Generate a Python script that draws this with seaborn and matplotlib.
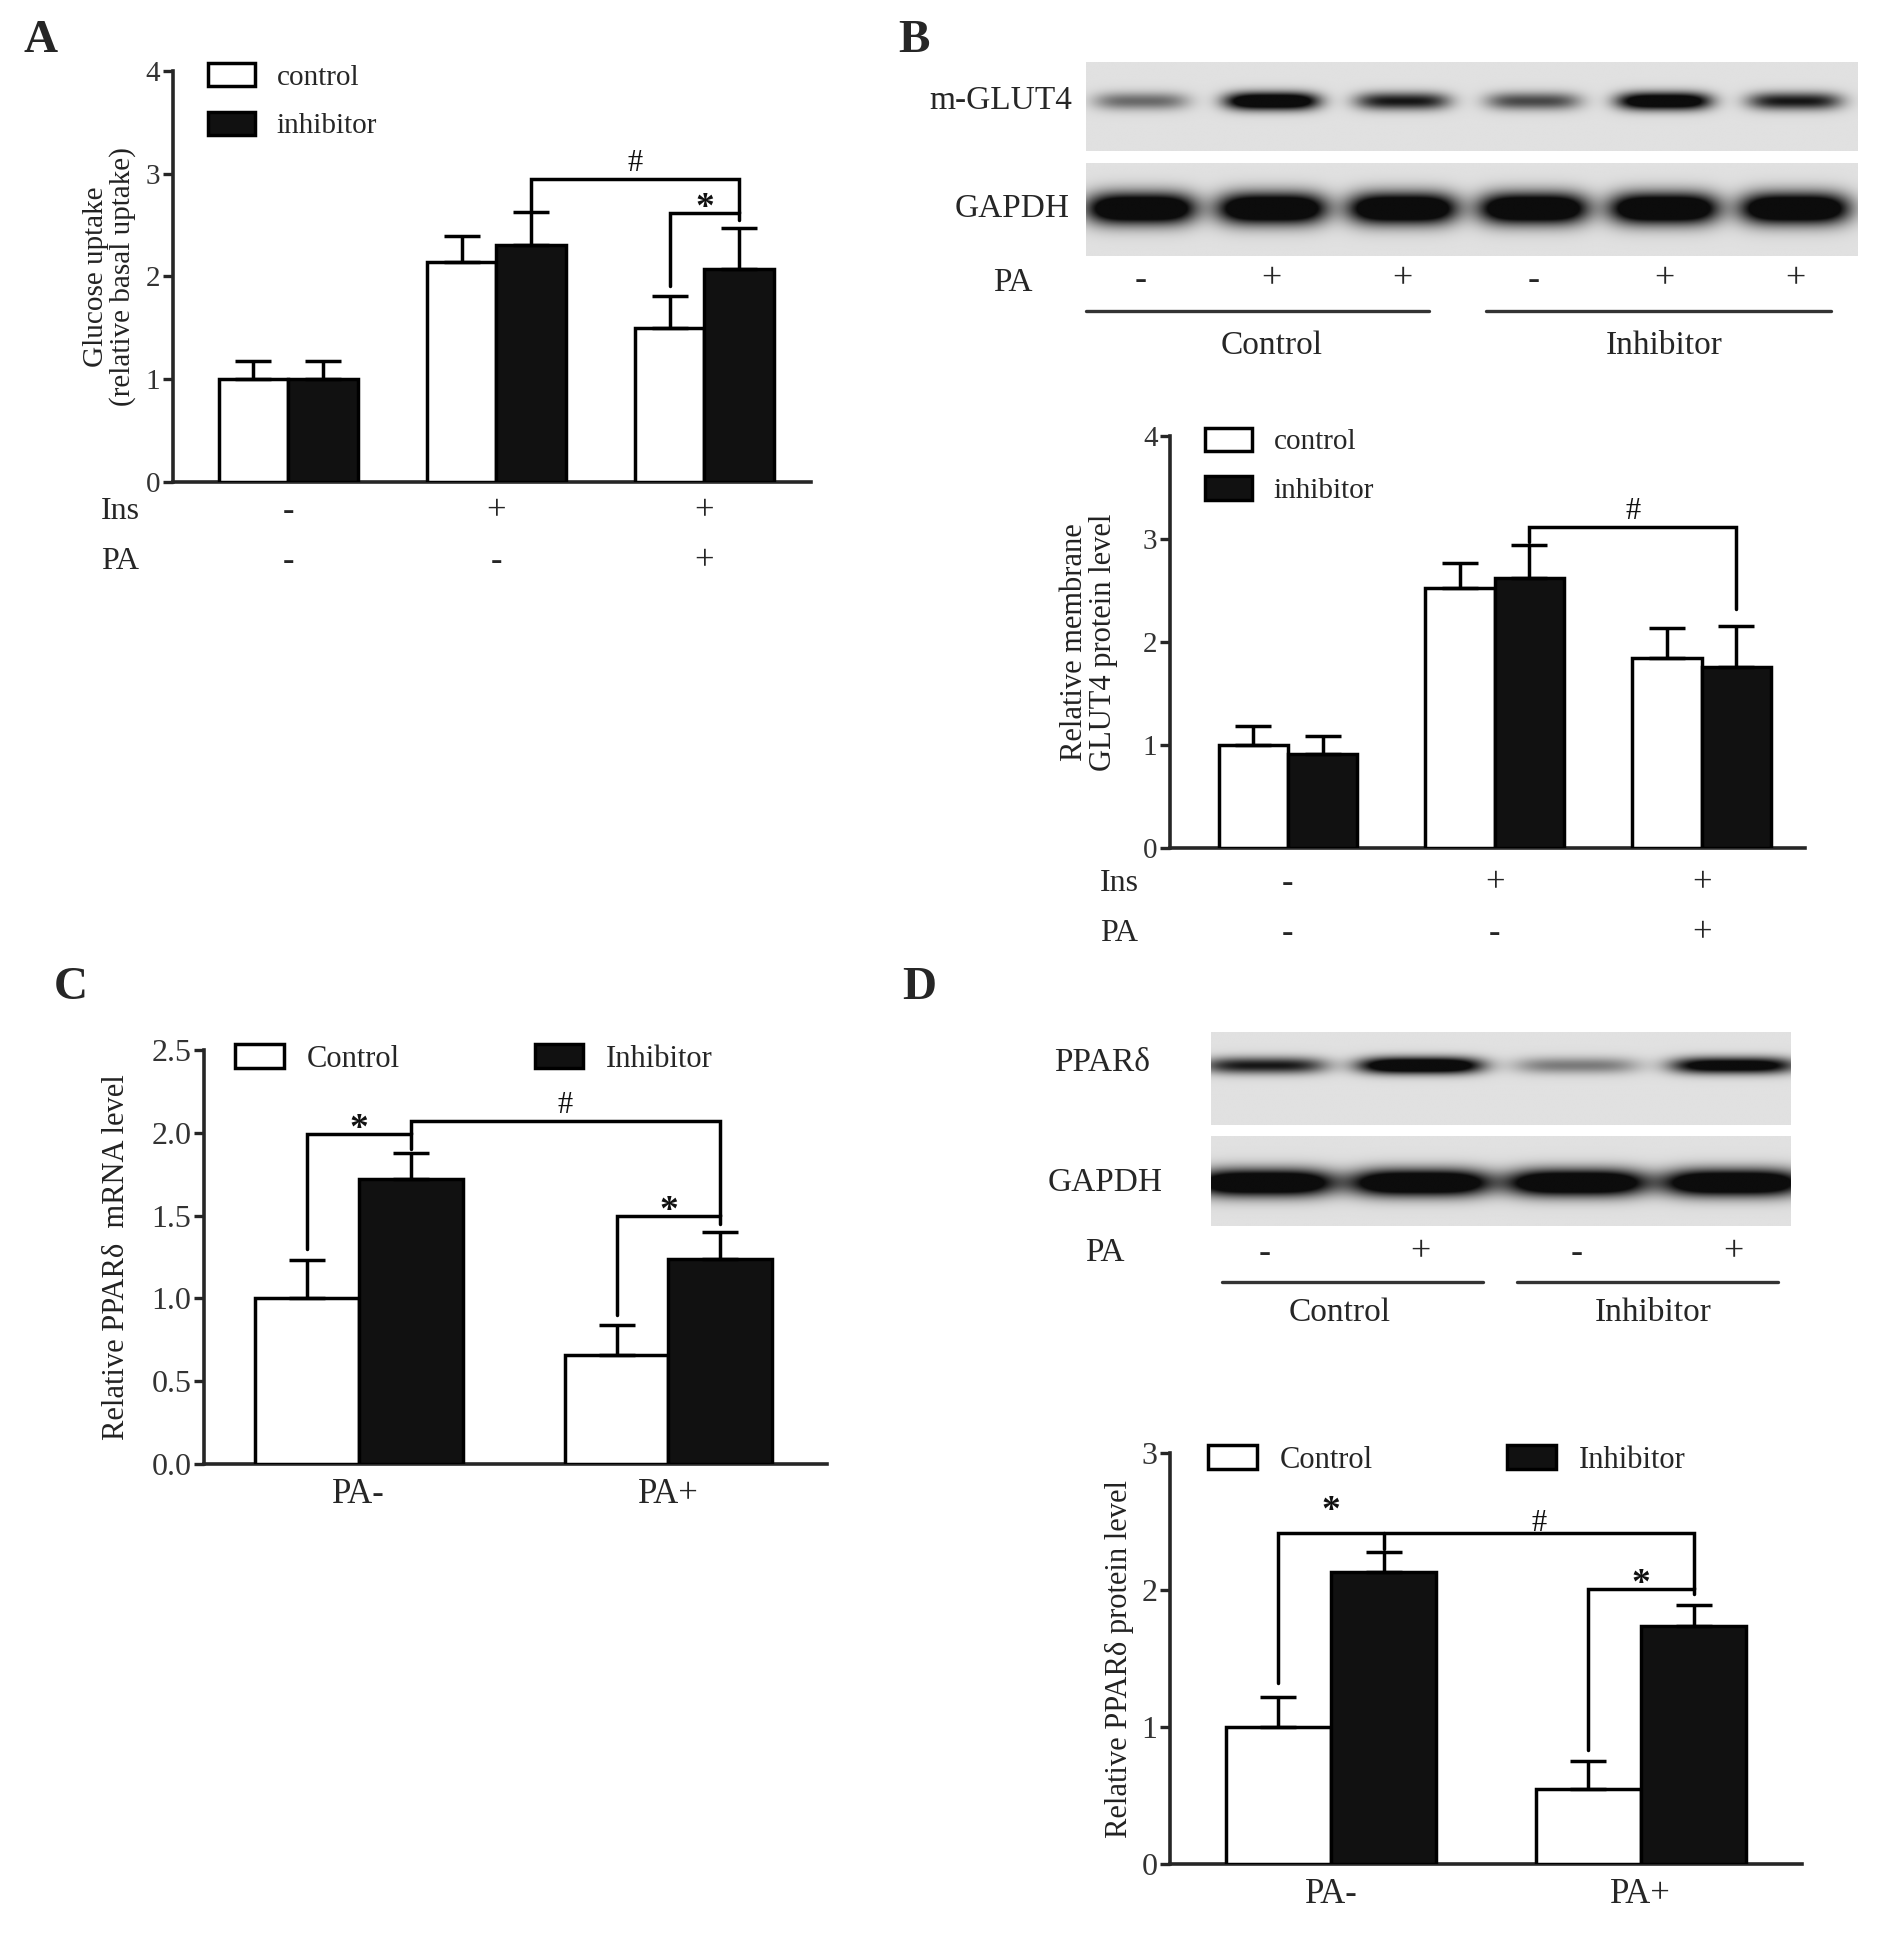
import numpy as np
import pandas as pd
import matplotlib
matplotlib.use("Agg")
import matplotlib.pyplot as plt
import matplotlib.transforms as mtransforms
from matplotlib.patches import Patch
import seaborn as sns

# ------------------------------------------------------------------ data
# Panel A: glucose uptake
a_groups = ["Ins-/PA-", "Ins+/PA-", "Ins+/PA+"]
a_ins = ["-", "+", "+"]
a_pa = ["-", "-", "+"]
a_control = [1.00, 2.14, 1.50]
a_control_err = [0.18, 0.25, 0.31]
a_inhibitor = [1.00, 2.31, 2.07]
a_inhibitor_err = [0.18, 0.32, 0.40]
# brackets: (cond_left, group_left, cond_right, group_right, y, y_end_left, y_end_right, label)
a_brackets = [("inhibitor", 1, "inhibitor", 2, 2.95, 2.64, 2.62, "#"),
              ("control", 2, "inhibitor", 2, 2.62, 1.91, 2.55, "*")]

# Panel B: membrane GLUT4 (western blot + quantification)
b_groups = ["Ins-/PA-", "Ins+/PA-", "Ins+/PA+"]
b_ins = ["-", "+", "+"]
b_pa = ["-", "-", "+"]
b_control = [1.00, 2.52, 1.84]
b_control_err = [0.18, 0.25, 0.30]
b_inhibitor = [0.91, 2.62, 1.76]
b_inhibitor_err = [0.18, 0.32, 0.40]
b_brackets = [("inhibitor", 1, "inhibitor", 2, 3.12, 2.97, 2.32, "#")]
b_blot_pa = ["-", "+", "+", "-", "+", "+"]
b_blot_rows = ["m-GLUT4", "GAPDH"]
b_glut4_band = [0.35, 0.95, 0.60, 0.45, 0.90, 0.60]
b_gapdh_band = [1.00, 1.00, 1.00, 1.00, 1.00, 1.00]
b_blot_groups = ["Control", "Inhibitor"]

# Panel C: PPARδ mRNA
c_groups = ["PA-", "PA+"]
c_control = [1.00, 0.66]
c_control_err = [0.23, 0.18]
c_inhibitor = [1.72, 1.24]
c_inhibitor_err = [0.16, 0.16]
c_brackets = [("control", 0, "inhibitor", 0, 1.99, 1.30, 1.90, "*"),
              ("inhibitor", 0, "inhibitor", 1, 2.07, 1.99, 1.50, "#"),
              ("control", 1, "inhibitor", 1, 1.50, 0.90, 1.45, "*")]

# Panel D: PPARδ protein (western blot + quantification)
d_groups = ["PA-", "PA+"]
d_control = [1.00, 0.55]
d_control_err = [0.22, 0.20]
d_inhibitor = [2.13, 1.74]
d_inhibitor_err = [0.15, 0.15]
d_brackets = [("control", 0, "inhibitor", 1, 2.415, 1.32, 2.01, None),
              ("control", 1, "inhibitor", 1, 2.01, 0.83, 1.97, "*")]
d_blot_pa = ["-", "+", "-", "+"]
d_blot_rows = ["PPARδ", "GAPDH"]
d_ppar_band = [0.60, 0.95, 0.30, 0.80]
d_gapdh_band = [1.00, 1.00, 1.00, 1.00]
d_blot_groups = ["Control", "Inhibitor"]

# ------------------------------------------------------------------ style
sns.set_style("ticks")
SERIF = ["Liberation Serif", "DejaVu Serif"]
plt.rcParams["font.family"] = SERIF
plt.rcParams["axes.linewidth"] = 2.0

W, H = 1890, 1942
fig = plt.figure(figsize=(W / 100, H / 100), dpi=100)
fig.patch.set_facecolor("white")


def add_ax(l, t, r, b):
    return fig.add_axes([l / W, 1 - b / H, (r - l) / W, (b - t) / H])


def fx(x):
    return x / W


def fy(y):
    return 1 - y / H


LW = 2.5


def bar_panel(ax, groups, control, control_err, inhibitor, inhibitor_err,
              width, xlim, ylim, yticks, ticklabels, tick_fs):
    n = len(groups)
    df = pd.DataFrame({"group": groups * 2,
                       "cond": ["control"] * n + ["inhibitor"] * n,
                       "value": control + inhibitor})
    sns.barplot(data=df, x="group", y="value", hue="cond", order=groups,
                hue_order=["control", "inhibitor"],
                palette={"control": "white", "inhibitor": "#111111"},
                edgecolor="black", linewidth=LW, width=width, saturation=1,
                errorbar=None, legend=False, ax=ax, zorder=3)
    patches = [p for p in ax.patches][: 2 * n]
    centers = {"control": [], "inhibitor": []}
    for k, p in enumerate(patches):
        cond = "control" if k < n else "inhibitor"
        centers[cond].append(p.get_x() + p.get_width() / 2)
    for cond, vals, errs in [("control", control, control_err),
                             ("inhibitor", inhibitor, inhibitor_err)]:
        ax.errorbar(centers[cond], vals, yerr=[np.zeros(n), errs], fmt="none",
                    ecolor="black", elinewidth=LW, capsize=13, capthick=LW,
                    zorder=4)
    ax.set_xlim(*xlim)
    ax.set_ylim(*ylim)
    ax.set_yticks(yticks)
    ax.set_yticklabels(ticklabels, fontsize=tick_fs, color="#333333")
    ax.set_xlabel("")
    ax.set_ylabel("")
    sns.despine(ax=ax)
    ax.spines["left"].set_linewidth(2.6)
    ax.spines["bottom"].set_linewidth(2.6)
    ax.tick_params(axis="y", direction="out", length=7, width=2.4, pad=2)
    ax.tick_params(axis="x", length=0)
    ax.set_facecolor("none")
    return centers


def sig_text(ax, x, y, lab, dy):
    tr = mtransforms.offset_copy(ax.transData, fig=fig, y=dy, units="dots")
    if lab == "*":
        ax.text(x, y, lab, transform=tr, ha="center", va="baseline",
                fontsize=27, fontweight="bold", color="#111111")
    else:
        ax.text(x, y, lab, transform=tr, ha="center", va="baseline",
                fontsize=22, color="#111111")


def brackets(ax, centers, specs):
    for cl, gl, cr, gr, y, yl, yr, lab in specs:
        x1 = centers[cl][gl]
        x2 = centers[cr][gr]
        ax.plot([x1, x1, x2, x2], [yl, y, y, yr], color="black", lw=LW,
                solid_joinstyle="miter", zorder=5, clip_on=False)
        if lab == "*":
            sig_text(ax, (x1 + x2) / 2, y, lab, -5)
        elif lab:
            sig_text(ax, (x1 + x2) / 2, y, lab, 8)


def legend(ax, labels, anchor, ncol, fs, colspace=1.0, lspace=0.75):
    handles = [Patch(facecolor="white", edgecolor="black", lw=LW, label=labels[0]),
               Patch(facecolor="#111111", edgecolor="black", lw=LW, label=labels[1])]
    ax.legend(handles=handles, loc="upper left", bbox_to_anchor=anchor,
              frameon=False, fontsize=fs, ncol=ncol, handlelength=1.6,
              handleheight=0.85, handletextpad=0.75, labelspacing=lspace,
              columnspacing=colspace, borderaxespad=0, borderpad=0)


def set_ylabel(ax, text, x, fs):
    ax.set_ylabel(text, fontsize=fs, color="#222222", linespacing=1.0)
    ax.yaxis.set_label_coords(x, 0.5)
    ax.yaxis.label.set_verticalalignment("center")


def ins_pa_rows(ax, ins, pa, y_ins, y_pa, x_lab, fs):
    tr = mtransforms.blended_transform_factory(ax.transData, ax.transAxes)
    ax.text(x_lab, y_ins, "Ins", transform=ax.transAxes, ha="center",
            va="center", fontsize=fs)
    ax.text(x_lab, y_pa, "PA", transform=ax.transAxes, ha="center",
            va="center", fontsize=fs)
    for i, (a, b) in enumerate(zip(ins, pa)):
        ax.text(i, y_ins, a, transform=tr, ha="center", va="center", fontsize=fs + 2)
        ax.text(i, y_pa, b, transform=tr, ha="center", va="center", fontsize=fs + 2)
    ax.set_xticklabels([])


def blot_strip(ax, intens, yc, hh, ww, xlim, bg=0.88):
    xs = np.linspace(xlim[0], xlim[1], 900)
    ys = np.linspace(0, 1, 220)
    X, Y = np.meshgrid(xs, ys)
    dark = np.zeros_like(X)
    for i, a in enumerate(intens, start=1):
        prof = np.exp(-np.abs((X - i) / ww) ** 4) * np.exp(-((Y - yc) / hh) ** 2)
        dark += 1.6 * a * prof
    img = bg - (bg - 0.05) * np.clip(dark, 0, 1)
    ax.imshow(img, cmap="gray", vmin=0, vmax=1, origin="upper",
              extent=[xlim[0], xlim[1], 1, 0], aspect="auto",
              interpolation="bilinear")
    ax.set_xlim(*xlim)
    ax.set_ylim(1, 0)
    ax.axis("off")


def blot_labels(ax, pa, pa_y, line_y, grp_y, lines, grp_x, groups, fs):
    tr = mtransforms.blended_transform_factory(ax.transData, fig.transFigure)
    for i, s in enumerate(pa, start=1):
        ax.text(i, fy(pa_y), s, transform=tr, ha="center", va="center",
                fontsize=fs + 2, clip_on=False)
    for (x0, x1) in lines:
        ax.plot([x0, x1], [fy(line_y), fy(line_y)], transform=tr,
                color="#333333", lw=2.4, clip_on=False)
    for x, g in zip(grp_x, groups):
        ax.text(x, fy(grp_y), g, transform=tr, ha="center", va="center",
                fontsize=fs, clip_on=False)


# ------------------------------------------------------------------ panel A
axA = add_ax(173, 71, 811, 482)
cA = bar_panel(axA, a_groups, a_control, a_control_err, a_inhibitor,
               a_inhibitor_err, 0.67, (-0.554, 2.512), (0, 4), [0, 1, 2, 3, 4],
               ["0", "1", "2", "3", "4"], 21)
brackets(axA, cA, a_brackets)
legend(axA, ["control", "inhibitor"], (0.055, 1.02), 1, 21, lspace=0.72)
set_ylabel(axA, "Glucose uptake\n(relative basal uptake)", -0.10, 21)
ins_pa_rows(axA, a_ins, a_pa, -0.072, -0.193, -0.083, 23)

# ------------------------------------------------------------------ panel B
xlimB = (0.58, 6.48)
axB1 = add_ax(1086, 62, 1858, 151)
blot_strip(axB1, b_glut4_band, 0.44, 0.10, 0.36, xlimB)
axB2 = add_ax(1086, 163, 1858, 256)
blot_strip(axB2, b_gapdh_band, 0.49, 0.17, 0.42, xlimB)
fig.text(fx(1001), fy(101), b_blot_rows[0], ha="center", va="center", fontsize=24)
fig.text(fx(1012), fy(209), b_blot_rows[1], ha="center", va="center", fontsize=24)
fig.text(fx(1013), fy(283), "PA", ha="center", va="center", fontsize=24)
blot_labels(axB1, b_blot_pa, 280, 311, 346, [(0.58, 3.2), (3.64, 6.27)],
            [2.0, 5.0], b_blot_groups, 24)

axB = add_ax(1170, 436, 1805, 848)
cB = bar_panel(axB, b_groups, b_control, b_control_err, b_inhibitor,
               b_inhibitor_err, 0.67, (-0.57, 2.50), (0, 4), [0, 1, 2, 3, 4],
               ["0", "1", "2", "3", "4"], 21)
brackets(axB, cB, b_brackets)
legend(axB, ["control", "inhibitor"], (0.055, 1.02), 1, 21, lspace=0.72)
set_ylabel(axB, "Relative membrane\nGLUT4 protein level", -0.127, 22)
ins_pa_rows(axB, b_ins, b_pa, -0.087, -0.207, -0.08, 23)

# ------------------------------------------------------------------ panel C
axC = add_ax(204, 1050, 827, 1464)
cC = bar_panel(axC, c_groups, c_control, c_control_err, c_inhibitor,
               c_inhibitor_err, 0.67, (-0.5, 1.512), (0, 2.5),
               [0, 0.5, 1.0, 1.5, 2.0, 2.5],
               ["0.0", "0.5", "1.0", "1.5", "2.0", "2.5"], 23)
brackets(axC, cC, c_brackets)
legend(axC, ["Control", "Inhibitor"], (0.05, 1.015), 2, 22, colspace=4.4)
set_ylabel(axC, "Relative PPARδ  mRNA level", -0.14, 22)
axC.tick_params(axis="x", labelsize=25, pad=10)

# ------------------------------------------------------------------ panel D
xlimD = (0.66, 4.37)
axD1 = add_ax(1211, 1032, 1791, 1125)
blot_strip(axD1, d_ppar_band, 0.36, 0.09, 0.40, xlimD)
axD2 = add_ax(1211, 1136, 1791, 1226)
blot_strip(axD2, d_gapdh_band, 0.52, 0.15, 0.45, xlimD)
fig.text(fx(1102), fy(1063), d_blot_rows[0], ha="center", va="center", fontsize=24)
fig.text(fx(1105), fy(1183), d_blot_rows[1], ha="center", va="center", fontsize=24)
fig.text(fx(1105), fy(1253), "PA", ha="center", va="center", fontsize=24)
blot_labels(axD1, d_blot_pa, 1253, 1282, 1313, [(0.73, 2.40), (2.62, 4.29)],
            [1.48, 3.49], d_blot_groups, 24)

axD = add_ax(1170, 1453, 1802, 1864)
cD = bar_panel(axD, d_groups, d_control, d_control_err, d_inhibitor,
               d_inhibitor_err, 0.68, (-0.52, 1.52), (0, 3), [0, 1, 2, 3],
               ["0", "1", "2", "3"], 23)
brackets(axD, cD, d_brackets)
# extra annotations of panel D bracket
axD.plot([cD["inhibitor"][0]] * 2, [2.415, 2.30], color="black", lw=LW, zorder=5)
sig_text(axD, (cD["control"][0] + cD["inhibitor"][0]) / 2, 2.415, "*", 12)
sig_text(axD, (cD["inhibitor"][0] + cD["inhibitor"][1]) / 2, 2.415, "#", 2)
legend(axD, ["Control", "Inhibitor"], (0.06, 1.02), 2, 22, colspace=4.4)
set_ylabel(axD, "Relative PPARδ protein level", -0.08, 22)
axD.tick_params(axis="x", labelsize=25, pad=10)

# ------------------------------------------------------------------ letters
for lab, x, y in [("A", 41, 41), ("B", 914, 41), ("C", 71, 988), ("D", 919, 988)]:
    fig.text(fx(x), fy(y), lab, ha="center", va="center", fontsize=34,
             fontweight="bold")

fig.savefig("out.png", dpi=100, facecolor="white")
